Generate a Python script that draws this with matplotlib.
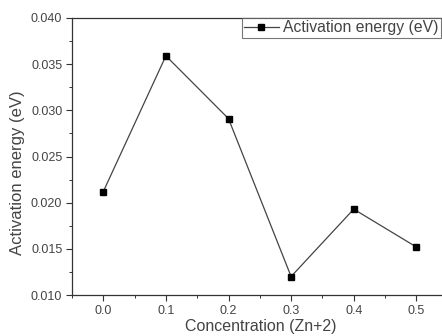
import matplotlib
matplotlib.use("Agg")
from matplotlib import pyplot as plt
from matplotlib.ticker import MultipleLocator, FormatStrFormatter

# activation energy vs Zn2+ concentration
conc = [0.0, 0.1, 0.2, 0.3, 0.4, 0.5]
energy = [0.0212, 0.0359, 0.0291, 0.0120, 0.0193, 0.0152]

plt.rcParams["font.family"] = ["Liberation Sans", "DejaVu Sans"]
txt = "#444444"

W, H = 442, 336
fig = plt.figure(figsize=(W / 100, H / 100), dpi=100)
# axes runs past the right edge of the figure, so no right spine is seen
ax = fig.add_axes([72 / W, 1 - 295 / H, 375.6 / W, 277 / H])

ax.plot(conc, energy, color="#444444", lw=0.9, marker="s", ms=4.5,
        mfc="black", mec="black", label="Activation energy (eV)")

ax.set_xlim(-0.05, 0.55)
ax.set_ylim(0.010, 0.040)
ax.xaxis.set_major_locator(MultipleLocator(0.1))
ax.xaxis.set_minor_locator(MultipleLocator(0.05))
ax.yaxis.set_major_locator(MultipleLocator(0.005))
ax.yaxis.set_minor_locator(MultipleLocator(0.0025))
ax.xaxis.set_major_formatter(FormatStrFormatter("%.1f"))
ax.yaxis.set_major_formatter(FormatStrFormatter("%.3f"))

for s in ax.spines.values():
    s.set_color("#333333")
    s.set_linewidth(0.9)
ax.tick_params(which="major", direction="out", length=4, width=0.8,
               colors="#333333", labelsize=9, labelcolor=txt)
ax.tick_params(which="minor", direction="out", length=2.5, width=0.7,
               colors="#333333")
ax.tick_params(axis="x", pad=3)
ax.tick_params(axis="y", pad=3)

ax.set_xlabel("Concentration (Zn+2)", fontsize=11.5, color=txt)
ax.set_ylabel("Activation energy (eV)", fontsize=12, color=txt)
ax.xaxis.set_label_coords((261 - 72) / 375.6, (295 - 326) / 277)
ax.yaxis.set_label_coords((18 - 72) / 375.6, (295 - 173) / 277)
ax.xaxis.label.set_va("center")
ax.yaxis.label.set_va("center")

leg = ax.legend(loc="upper right", bbox_to_anchor=(441 / W, 1 - 18 / H),
                bbox_transform=fig.transFigure, fontsize=11.3, fancybox=False,
                handlelength=2.2, handletextpad=0.3, borderpad=0.15,
                borderaxespad=0, labelcolor=txt)
leg.get_frame().set_edgecolor("#555555")
leg.get_frame().set_linewidth(0.8)

fig.savefig("out.png", dpi=100)
